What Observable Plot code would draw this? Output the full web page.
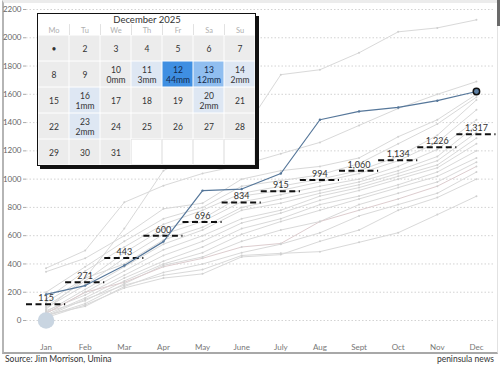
<!DOCTYPE html>
<html>
<head>
<meta charset="utf-8">
<script src="https://cdn.jsdelivr.net/npm/d3@7"></script>
<script src="https://cdn.jsdelivr.net/npm/@observablehq/plot@0.6"></script>
<style>
  html, body { margin: 0; padding: 0; background: #fff; }
  body { width: 500px; height: 365px; position: relative; overflow: hidden; font-family: Lato, "Open Sans", sans-serif; }
  #frame { position: absolute; left: 2px; top: 0; width: 496px; height: 354px; box-sizing: border-box;
           border-left: 2px solid #b5b5b5; border-bottom: 2px solid #a8a8a8; border-top: 3px solid #ececec; border-right: 1px solid #e2e2e2; }
  #scroll { position: absolute; left: 497px; top: 0; width: 3px; height: 26px; background: #6a6a6a; }
  #chart { position: absolute; left: 0; top: 0; }
  #cal { position: absolute; left: 37px; top: 13px; width: 217px; height: 151px; background: #fff;
         border: 1.5px solid #111; box-shadow: 3px 3px 0 #111; }
  .foot { position: absolute; top: 354px; font-size: 8.5px; color: #333; }
</style>
</head>
<body>
<div id="frame"></div>
<div id="scroll"></div>
<div id="chart"></div>
<div id="cal"></div>
<div class="foot" style="left:5px">Source: Jim Morrison, Umina</div>
<div class="foot" style="right:6px">peninsula news</div>
<script>
// ---- main chart data ----
const months = ["Jan","Feb","Mar","Apr","May","June","July","Aug","Sept","Oct","Nov","Dec"];
const yTicks = [0,200,400,600,800,1000,1200,1400,1600,1800,2000,2200];
const monthlyAverage = [115, 271, 443, 600, 696, 834, 915, 994, 1060, 1134, 1226, 1317];
const current2025 = [185, 247, 389, 558, 919, 930, 1040, 1420, 1479, 1507, 1555, 1620];
const startMarker = [0];
const pastSeries = [
  [130, 300, 650, 1060, 1200, 1320, 1739, 1774, 1894, 2042, 2070, 2127],
  [370, 495, 836, 954, 1040, 1100, 1180, 1260, 1380, 1500, 1600, 1690],
  [345, 440, 600, 790, 830, 1000, 1060, 1090, 1150, 1300, 1420, 1600],
  [200, 380, 560, 720, 800, 950, 990, 1030, 1110, 1250, 1390, 1580],
  [150, 350, 520, 680, 780, 900, 950, 1000, 1060, 1160, 1310, 1560],
  [100, 280, 480, 650, 720, 880, 920, 980, 1040, 1130, 1260, 1490],
  [90, 250, 440, 610, 700, 840, 890, 950, 1000, 1090, 1210, 1420],
  [80, 300, 400, 570, 660, 800, 860, 920, 980, 1060, 1160, 1380],
  [60, 220, 380, 540, 640, 780, 830, 900, 960, 1040, 1130, 1330],
  [50, 200, 350, 500, 600, 720, 780, 880, 940, 1020, 1100, 1290],
  [70, 180, 320, 460, 560, 690, 760, 850, 920, 1000, 1080, 1250],
  [40, 160, 300, 420, 520, 650, 720, 820, 880, 960, 1050, 1200],
  [60, 140, 280, 400, 480, 610, 700, 780, 860, 940, 1020, 1150],
  [30, 120, 260, 390, 450, 560, 640, 700, 820, 900, 980, 1120],
  [50, 200, 270, 380, 440, 520, 545, 700, 780, 860, 950, 1090],
  [40, 100, 240, 340, 400, 480, 540, 620, 740, 820, 900, 1050],
  [30, 150, 250, 320, 360, 460, 475, 487, 553, 621, 749, 879],
  [20, 110, 230, 300, 330, 450, 466, 560, 640, 780, 870, 1000]
];
const pinkSeriesIndex = 14;

// ---- calendar data ----
const calTitle = "December 2025";
const weekdays = ["Mo","Tu","We","Th","Fr","Sa","Su"];
const calDays = d3.range(1, 32);
const dayLabels = { 1: "•" };
const rainDays = [10, 11, 12, 13, 14, 16, 20, 23];
const rainMm =   [0, 3, 44, 12, 2, 1, 2, 2];

// ---- build tables ----
const pastLong = pastSeries.flatMap((s, k) => s.map((v, m) => ({ k, m, v })));
const curData = current2025.map((v, m) => ({ m, v }));
const avgData = monthlyAverage.map((v, m) => ({ m, v }));
const fmt = d3.format(",");

const chart = Plot.plot({
  width: 500, height: 352,
  marginLeft: 26, marginRight: 4.5, marginTop: 9, marginBottom: 32,
  x: { domain: [-0.5, 11.5], axis: null },
  y: { domain: [0, 2200], axis: null },
  style: { fontFamily: "Lato, 'Open Sans', sans-serif", fontSize: "8px", color: "#666", overflow: "visible", background: "transparent" },
  marks: [
    Plot.ruleY(yTicks, { x1: -0.5, x2: 11.45, stroke: "#c8c8c8", strokeDasharray: "1.5,2", strokeWidth: 0.8 }),
    Plot.axisY({ ticks: yTicks, tickFormat: d => String(d), tickSize: 3, tickPadding: 2, label: null, stroke: "#aaa", fill: "#666", fontSize: 8 }),
    Plot.axisX({ ticks: d3.range(12), tickFormat: i => months[i], tickSize: 0, tickPadding: 24, label: null, fill: "#777", fontSize: 8 }),
    Plot.line(pastLong, { x: "m", y: "v", z: "k", stroke: d => d.k === pinkSeriesIndex ? "#ddcdcf" : "#d9d9d9", strokeWidth: 1 }),
    Plot.dot(pastLong, { x: "m", y: "v", r: 1, fill: "#d0d0d0" }),
    Plot.ruleY(avgData, { y: "v", x1: d => d.m - 0.5, x2: d => d.m + 0.5, stroke: "#111", strokeWidth: 2, strokeDasharray: "6,3.5" }),
    Plot.text(avgData, { x: "m", y: "v", text: d => fmt(d.v), dy: -6, fill: "#333", fontSize: 9 }),
    Plot.dot(startMarker, { x: 0, y: d => d, r: 8.3, fill: "#c9d5e1" }),
    Plot.line(curData, { x: "m", y: "v", stroke: "#56779a", strokeWidth: 1.2 }),
    Plot.dot(curData, { x: "m", y: "v", r: 1.2, fill: "#56779a" }),
    Plot.dot(curData.slice(-1), { x: "m", y: "v", r: 3.2, fill: "#5d7fa3", stroke: "#111", strokeWidth: 1.5 })
  ]
});
document.getElementById("chart").append(chart);

// ---- calendar ----
const cells = calDays.map(d => {
  const i = rainDays.indexOf(d);
  return { day: d, col: weekdays[(d - 1) % 7], row: Math.floor((d - 1) / 7), mm: i >= 0 ? rainMm[i] : null };
});
const emptyCells = d3.range(32, 36).map(d => ({ col: weekdays[(d - 1) % 7], row: Math.floor((d - 1) / 7) }));

const cal = Plot.plot({
  width: 217, height: 151, margin: 0,
  x: { type: "band", domain: weekdays, padding: 0, axis: null },
  y: { domain: [5, -0.808], axis: null },
  color: { type: "threshold", domain: [1, 10, 40], range: ["#ececec", "#dee7f3", "#90bef0", "#3f8fe2"] },
  style: { fontFamily: "Lato, 'Open Sans', sans-serif", fontSize: "8.5px", color: "#333", background: "transparent" },
  marks: [
    Plot.text([calTitle], { y: -0.6, text: d => d, fontSize: 9.5, fill: "#333" }),
    Plot.ruleX(weekdays.slice(1), { x: d => d, dx: -15.5, y1: -0.42, y2: 0, stroke: "#e2e2e2" }),
    Plot.text(weekdays, { x: d => d, y: -0.2, text: d => d, fill: "#b0b0b0", fontSize: 7.5 }),
    Plot.barY(cells, { x: "col", y1: "row", y2: d => d.row + 1, fill: d => d.mm ?? 0, inset: 0.5 }),
    Plot.barY(emptyCells, { x: "col", y1: "row", y2: d => d.row + 1, fill: "white", stroke: "#e6e6e6", strokeWidth: 0.7, inset: 0.5 }),
    Plot.text(cells, { x: "col", y: d => d.row + 0.5, text: d => (dayLabels[d.day] ?? String(d.day)) + (d.mm == null ? "" : "\n" + d.mm + "mm"),
      fill: d => d.mm >= 10 ? "#13294a" : "#333", fontSize: 8.5, lineHeight: 1.15 })
  ]
});
document.getElementById("cal").append(cal);
</script>
</body>
</html>
